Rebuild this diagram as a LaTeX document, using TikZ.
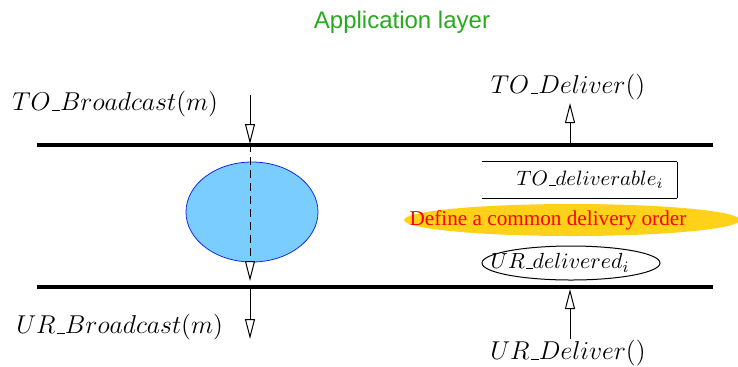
\RequirePackage{fix-cm}
\documentclass[tikz,border=0pt]{standalone}
\usepackage{fontspec}
\newfontfamily\helvfam{Liberation Sans}
\newfontfamily\seriffam{Liberation Serif}
\usetikzlibrary{arrows.meta,shapes.geometric}
\definecolor{layergreen}{RGB}{40,170,30}
\definecolor{cloudblue}{RGB}{122,206,255}
\definecolor{rimblue}{RGB}{20,40,230}
\definecolor{gold}{RGB}{255,210,25}
% short lowered rule, as the classic \_ draws it
\newcommand\ubar{\kern.06em\vbox{\hrule width.3em height .45pt}}
\begin{document}
\begin{tikzpicture}[x=0.5pt,y=-0.5pt,
  lbl/.style={inner sep=0pt,font=\fontsize{12.9}{15}\selectfont},
  boxlbl/.style={inner sep=0pt,font=\fontsize{10.4}{12}\selectfont},
  inlbl/.style={inner sep=0pt,font=\fontsize{10.95}{13}\selectfont},
  rail/.style={line width=2pt,black},
  call/.style={line width=0.5pt,-{Triangle[open,length=10pt,width=5pt,fill=white]}},
]
\useasboundingbox (0,0) rectangle (738,366);

% title
\node[inner sep=0pt,text=layergreen,font=\helvfam\fontsize{12}{14}\selectfont] (title) at (402,22) {Application layer};

% layer rails
\coordinate (topL) at (37,145);  \coordinate (topR) at (713,145);
\coordinate (botL) at (37,287);  \coordinate (botR) at (713,287);
\draw[rail] (topL) -- (topR);
\draw[rail] (botL) -- (botR);

% broadcast side
\node[draw=rimblue,fill=cloudblue,ellipse,minimum width=66pt,minimum height=50pt,inner sep=0pt] (proto) at (252,212) {};
\node[lbl,anchor=west] (tob) at (12,104) {$TO\ubar Broadcast(m)$};
\node[lbl,anchor=west] (urb) at (16,327) {$UR\ubar Broadcast(m)$};
\coordinate (tobS) at (250,95);
\coordinate (tobE) at (250,144);
\coordinate (midE) at (250,281);
\coordinate (urbS) at (250,289);
\coordinate (urbE) at (250,339);
\draw[call] (tobS) -- (tobE);
\draw[call,dash pattern=on 4pt off 2.5pt] (tobE) -- (midE);
\draw[call] (urbS) -- (urbE);

% delivery side
\node[fill=gold,ellipse,minimum width=168pt,minimum height=16pt,inner sep=0pt] (order) at (572,220) {};
\node[inner sep=0pt,text=red,font=\seriffam\fontsize{10.6}{12}\selectfont] (ordertxt) at (548,220) {Define a common delivery order};
% bracket-like box, open on its left side
\node[minimum width=97.5pt,minimum height=18pt,inner sep=0pt] (dlvbl) at (579.5,180) {};
\draw[line width=0.5pt] (dlvbl.north west) -- (dlvbl.north east);
\draw[line width=0.6pt] (dlvbl.south west) -- (dlvbl.south east);
\draw[line width=0.9pt] (dlvbl.north east) -- (dlvbl.south east);
\node[boxlbl] (dlvbltxt) at (590,180) {$TO\ubar deliverable_i$};
\node[draw,line width=0.5pt,ellipse,minimum width=89pt,minimum height=17pt,inner sep=0pt] (dlvd) at (571,263) {};
\node[inlbl] (dlvdtxt) at (560,263) {$UR\ubar delivered_i$};

\node[lbl] (tod) at (568,87) {$TO\ubar Deliver()$};
\node[lbl] (urd) at (568,353) {$UR\ubar Deliver()$};
\coordinate (todS) at (570,145);
\coordinate (todE) at (570,103);
\coordinate (urdS) at (570,339);
\coordinate (urdE) at (570,289);
\draw[call] (todS) -- (todE);
\draw[call] (urdS) -- (urdE);
\end{tikzpicture}
\end{document}
